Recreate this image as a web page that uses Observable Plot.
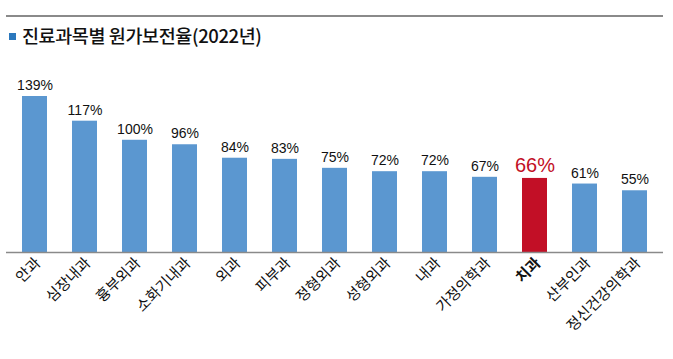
<!DOCTYPE html>
<html>
<head>
<meta charset="utf-8">
<script src="https://cdn.jsdelivr.net/npm/d3@7"></script>
<script src="https://cdn.jsdelivr.net/npm/@observablehq/plot@0.6"></script>
<style>
  html, body { margin: 0; padding: 0; background: #fff; }
  #wrap { position: relative; width: 673px; height: 359px; overflow: hidden; font-family: "Noto Sans CJK KR", sans-serif; }
  #rule { position: absolute; left: 6px; top: 15px; width: 657px; height: 2px; background: #8a8a8a; }
  #title { position: absolute; left: 9px; top: 22px; font-size: 18.5px; font-weight: 500; color: #111; letter-spacing: -0.4px; white-space: nowrap; line-height: 26px; }
  #title .sq { display: inline-block; width: 7px; height: 7px; background: #2b78bd; margin-right: 6px; vertical-align: 3px; }
  #chart { position: absolute; left: 0; top: 56px; }
</style>
</head>
<body>
<div id="wrap">
  <div id="rule"></div>
  <div id="title"><span class="sq"></span>진료과목별 원가보전율(2022년)</div>
  <div id="chart"></div>
</div>
<script>
const categories = ["안과", "심장내과", "흉부외과", "소화기내과", "외과", "피부과", "정형외과", "성형외과", "내과", "가정의학과", "치과", "산부인과", "정신건강의학과"];
const values = [139, 117, 100, 96, 84, 83, 75, 72, 72, 67, 66, 61, 55];
const highlight = "치과";

const data = categories.map((c, i) => ({ category: c, value: values[i] }));
const normal = data.filter(d => d.category !== highlight);
const hi = data.filter(d => d.category === highlight);

const blue = "#5b97d0";
const red = "#c20f26";

const chart = Plot.plot({
  width: 673,
  height: 303,
  marginLeft: 6,
  marginRight: 10,
  marginTop: 40,
  marginBottom: 107,
  x: { domain: categories, paddingInner: 0.5, paddingOuter: 0.27, axis: null },
  y: { domain: [0, 139], axis: null },
  marks: [
    Plot.barY(normal, { x: "category", y: "value", fill: blue }),
    Plot.barY(hi, { x: "category", y: "value", fill: red }),
    Plot.ruleY([0], { stroke: "#8a8a8a", strokeWidth: 1.5 }),
    Plot.text(normal, { x: "category", y: "value", text: d => d.value + "%", dy: -11, fill: "#111", fontSize: 14, fontFamily: "Liberation Sans, Arial, sans-serif", style: "letter-spacing:-1.2px" }),
    Plot.text(hi, { x: "category", y: "value", text: d => d.value + "%", dy: -13, fill: red, fontSize: 20, fontWeight: 500, fontFamily: "Liberation Sans, Arial, sans-serif", style: "letter-spacing:-0.8px" }),
    Plot.text(normal, { x: "category", y: () => 0, text: "category", rotate: -45, textAnchor: "end", dx: 3, dy: 8, fontSize: 15, fill: "#111", fontFamily: "Noto Sans CJK KR, sans-serif", style: "letter-spacing:-0.6px" }),
    Plot.text(hi, { x: "category", y: () => 0, text: "category", rotate: -45, textAnchor: "end", dx: 3, dy: 8, fontSize: 15, fontWeight: "bold", fill: "#111", fontFamily: "Noto Sans CJK KR, sans-serif", style: "letter-spacing:-0.6px" })
  ]
});
document.getElementById("chart").appendChild(chart);
</script>
</body>
</html>
